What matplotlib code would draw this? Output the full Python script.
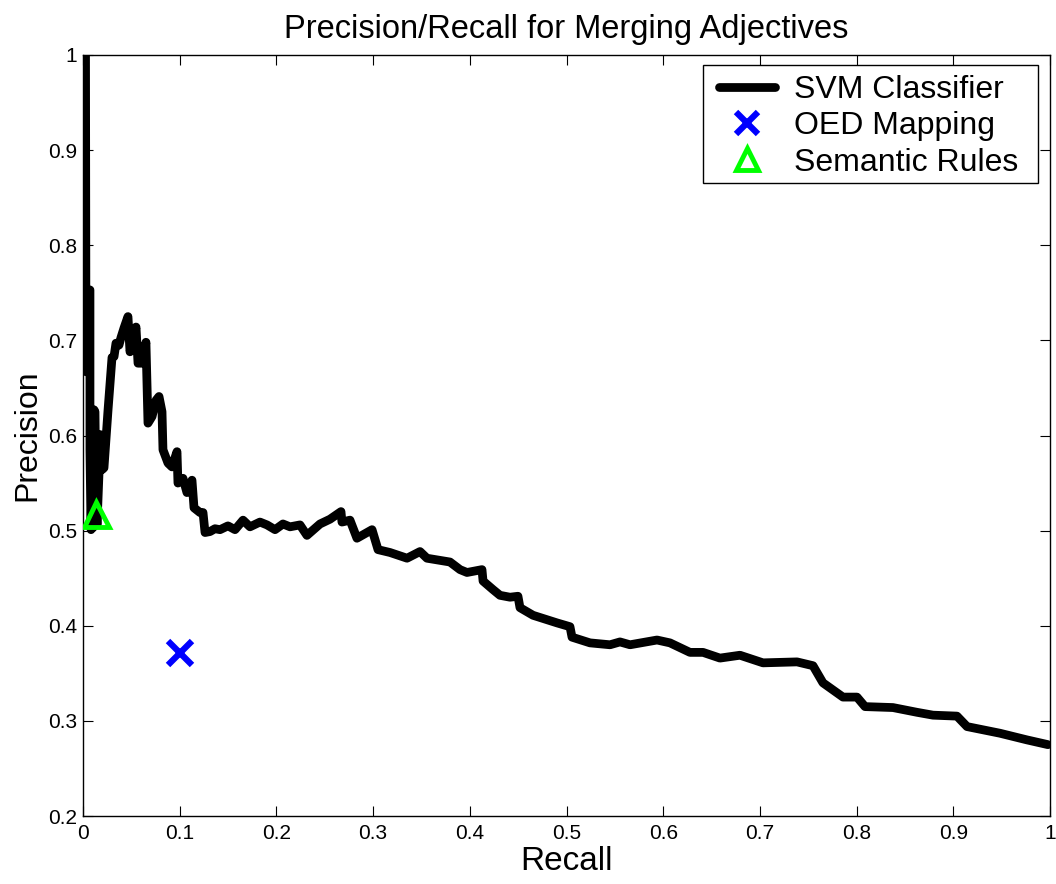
import matplotlib
matplotlib.use("Agg")
import matplotlib.pyplot as plt
from matplotlib.ticker import FuncFormatter
from matplotlib.patches import Rectangle

plt.rcParams['font.family'] = ['Liberation Sans', 'DejaVu Sans']

# SVM classifier precision/recall curve
svm_recall = [0.0026, 0.0031, 0.0052, 0.0052, 0.0072, 0.0072, 0.0083, 0.0093, 0.0103, 0.0114,
              0.0124, 0.0134, 0.0145, 0.0165, 0.0176, 0.0196, 0.0217, 0.0259, 0.0300, 0.0321,
              0.0341, 0.0372, 0.0393, 0.0424, 0.0465, 0.0486, 0.0517, 0.0548, 0.0569, 0.0610,
              0.0651, 0.0672, 0.0714, 0.0755, 0.0786, 0.0817, 0.0827, 0.0879, 0.0920, 0.0972,
              0.0982, 0.1034, 0.1075, 0.1127, 0.1148, 0.1210, 0.1241, 0.1262, 0.1313, 0.1365,
              0.1417, 0.1499, 0.1572, 0.1655, 0.1727, 0.1830, 0.1903, 0.1986, 0.2068, 0.2141,
              0.2244, 0.2316, 0.2451, 0.2554, 0.2668, 0.2678, 0.2761, 0.2833, 0.2989, 0.3051,
              0.3175, 0.3351, 0.3485, 0.3557, 0.3795, 0.3899, 0.3971, 0.4126, 0.4137, 0.4240,
              0.4312, 0.4416, 0.4498, 0.4519, 0.4654, 0.4809, 0.4902, 0.5036, 0.5057, 0.5243,
              0.5450, 0.5553, 0.5657, 0.5936, 0.6070, 0.6277, 0.6412, 0.6587, 0.6794, 0.7032,
              0.7384, 0.7549, 0.7652, 0.7859, 0.8004, 0.8087, 0.8376, 0.8625, 0.8790, 0.9038,
              0.9142, 0.9483, 0.9762, 0.9979]
svm_precision = [1.000, 0.667, 0.667, 0.753, 0.753, 0.585, 0.501, 0.564, 0.503, 0.627,
                 0.625, 0.532, 0.506, 0.559, 0.601, 0.564, 0.566, 0.627, 0.682, 0.683,
                 0.697, 0.695, 0.703, 0.713, 0.725, 0.688, 0.700, 0.714, 0.676, 0.676,
                 0.698, 0.613, 0.620, 0.637, 0.641, 0.625, 0.585, 0.571, 0.567, 0.583,
                 0.550, 0.555, 0.540, 0.553, 0.524, 0.519, 0.519, 0.498, 0.499, 0.502,
                 0.501, 0.505, 0.501, 0.511, 0.504, 0.509, 0.506, 0.501, 0.507, 0.504,
                 0.506, 0.495, 0.507, 0.512, 0.520, 0.509, 0.511, 0.492, 0.501, 0.480,
                 0.477, 0.471, 0.478, 0.471, 0.467, 0.459, 0.456, 0.459, 0.447, 0.438,
                 0.432, 0.430, 0.431, 0.419, 0.411, 0.406, 0.403, 0.399, 0.388, 0.382,
                 0.380, 0.383, 0.380, 0.385, 0.382, 0.372, 0.372, 0.366, 0.369, 0.361,
                 0.362, 0.358, 0.340, 0.325, 0.325, 0.315, 0.314, 0.309, 0.306, 0.305,
                 0.294, 0.287, 0.280, 0.275]

# Single-point systems
oed_recall = [0.1003]
oed_precision = [0.3714]
sem_recall = [0.0131]
sem_precision = [0.5176]

x_ticks = [0, 0.1, 0.2, 0.3, 0.4, 0.5, 0.6, 0.7, 0.8, 0.9, 1]
y_ticks = [0.2, 0.3, 0.4, 0.5, 0.6, 0.7, 0.8, 0.9, 1]

fig = plt.figure(figsize=(10.56, 8.84), dpi=100)
ax = fig.add_axes([83 / 1056, 68 / 884, 967 / 1056, 761 / 884])

ax.plot(svm_recall, svm_precision, color='black', linewidth=6.3,
        solid_joinstyle='round', solid_capstyle='round', label='SVM Classifier', zorder=2)
ax.plot(oed_recall, oed_precision, linestyle='none', marker='x', color='#0000ff',
        markersize=17, markeredgewidth=4.5, label='OED Mapping', zorder=3)
ax.plot(sem_recall, sem_precision, linestyle='none', marker='^', markerfacecolor='none',
        markeredgecolor='#00ff00', markersize=18, markeredgewidth=3.5,
        label='Semantic Rules', zorder=3)

ax.set_xlim(0, 1)
ax.set_ylim(0.2, 1)
ax.set_xticks(x_ticks)
ax.set_yticks(y_ticks)
fmt = FuncFormatter(lambda v, p: ('%g' % round(v, 2)))
ax.xaxis.set_major_formatter(fmt)
ax.yaxis.set_major_formatter(fmt)
ax.tick_params(direction='in', length=7, width=0.8, top=True, right=True,
               labelsize=15, pad=4)
ax.tick_params(axis='x', pad=6)
for s in ax.spines.values():
    s.set_linewidth(1.0)

ax.set_xlabel('Recall', fontsize=24, labelpad=2)
ax.set_ylabel('Precision', fontsize=23, labelpad=4)
ax.set_title('Precision/Recall for Merging Adjectives', fontsize=23.5, pad=12)

# legend frame (drawn separately for asymmetric padding like the original)
ax.add_patch(Rectangle((0.6412, 0.8318), 0.3464, 0.1551, transform=ax.transAxes,
                       facecolor='white', edgecolor='black', linewidth=1.0, zorder=4))
leg = ax.legend(loc='upper left', bbox_to_anchor=(0.6575, 0.974), borderaxespad=0,
                fontsize=23, frameon=False, handlelength=1.75, handletextpad=0.6,
                borderpad=0, labelspacing=0.2, markerscale=0.9)
leg.set_zorder(5)

fig.savefig('out.png', dpi=100)
